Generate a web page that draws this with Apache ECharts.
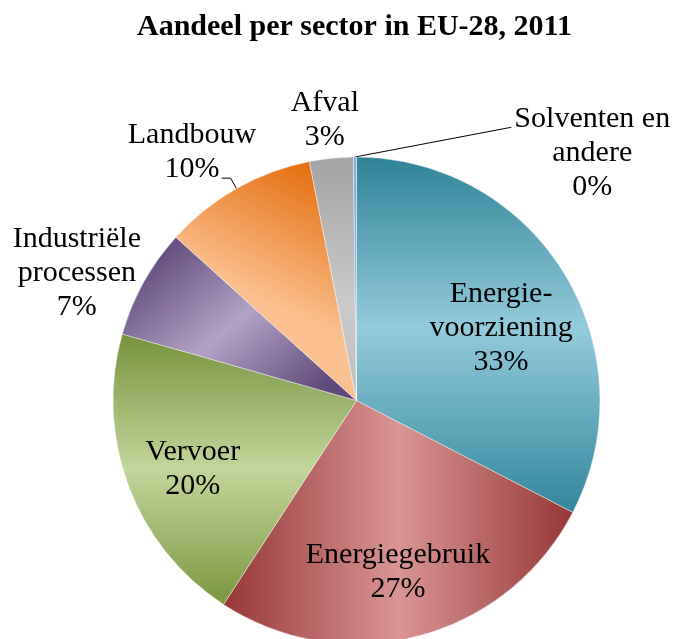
<!DOCTYPE html>
<html>
<head>
<meta charset="utf-8">
<script src="https://cdn.jsdelivr.net/npm/echarts@6/dist/echarts.min.js"></script>
<style>html,body{margin:0;padding:0;background:#fff}#c{width:675px;height:639px}</style>
</head>
<body>
<div id="c"></div>
<script>
// ---- data ----
const categories = ['Energievoorziening', 'Energiegebruik', 'Vervoer', 'Industriële processen', 'Landbouw', 'Afval', 'Solventen en andere'];
const labelNames = ['Energie-\nvoorziening', 'Energiegebruik', 'Vervoer', 'Industriële\nprocessen', 'Landbouw', 'Afval', 'Solventen en\nandere'];
const values = [32.6, 26.6, 20.2, 7.3, 10.2, 2.9, 0.2];

// ---- style ----
const CX = 356.5, CY = 400.5, R = 243.5;
const FONT = "Liberation Serif";
// [radial ratio, angular tweak in degrees] for each label
const labelPlace = [[0.664, 4.7], [0.726, 1.2], [0.73, -2.3], [1.262, -4.5], [1.224, -4.0], [1.159, -0.5], [1.403, 44]];

function lin(x, y, x2, y2, stops) {
  return new echarts.graphic.LinearGradient(x, y, x2, y2, stops.map(c => ({offset: c[0], color: c[1]})));
}
const fills = [
  lin(0, 0, 0, 1, [[0, '#2f8297'], [0.48, '#93cbdc'], [1, '#33869c']]),
  lin(0, 0, 1, 0, [[0, '#953735'], [0.5, '#d99694'], [1, '#953735']]),
  lin(0, 0, 0, 1, [[0, '#76923c'], [0.5, '#c3d69b'], [1, '#7a963f']]),
  lin(0.2, 0, 0.8, 1, [[0, '#5f497a'], [0.5, '#b3a2c7'], [1, '#5f497a']]),
  lin(0.75, 0, 0.4, 0.55, [[0, '#e46c0a'], [1, '#fac090']]),
  lin(0, 0, 0, 1, [[0, '#a3a3a3'], [0.6, '#cacaca'], [1, '#bebebe']]),
  '#8eaadb'
];
const outsideIdx = [4, 6];

const total = values.reduce((a, b) => a + b, 0);
function midAngle(i) {
  let cum = 0;
  for (let k = 0; k < i; k++) cum += values[k];
  return (cum + values[i] / 2) / total * 360;
}
function polar(angDeg, r) {
  const a = angDeg * Math.PI / 180;
  return [CX + r * Math.sin(a), CY - r * Math.cos(a)];
}

const data = categories.map((name, i) => {
  const out = outsideIdx.indexOf(i) >= 0;
  return {
    name: name,
    value: values[i],
    itemStyle: {color: fills[i]},
    label: {position: out ? 'outside' : 'inside'},
    labelLine: {show: out}
  };
});

const chart = echarts.init(document.getElementById('c'), null, {renderer: 'canvas'});
chart.setOption({
  animation: false,
  backgroundColor: '#fff',
  textStyle: {fontFamily: FONT},
  title: {
    text: 'Aandeel per sector in EU-28, 2011',
    left: 137, top: 12, padding: 0,
    textStyle: {fontFamily: FONT, fontSize: 30, fontWeight: 'bold', color: '#000'}
  },
  series: [{
    type: 'pie',
    center: [CX, CY],
    radius: [0, R],
    startAngle: 90,
    clockwise: true,
    avoidLabelOverlap: false,
    itemStyle: {borderColor: 'rgba(255,255,255,0.7)', borderWidth: 0.6},
    label: {
      show: true,
      fontFamily: FONT,
      fontSize: 30,
      lineHeight: 34,
      color: '#000',
      formatter: p => labelNames[p.dataIndex] + '\n' + Math.round(p.value / total * 100) + '%'
    },
    labelLine: {length: 10, length2: 8, smooth: false, lineStyle: {color: '#000', width: 1}},
    labelLayout: function (p) {
      const i = p.dataIndex;
      const m = midAngle(i);
      const pl = labelPlace[i];
      const t = polar(m + pl[1], pl[0] * R);
      const res = {x: t[0], y: t[1], align: 'center', verticalAlign: 'middle'};
      const arc = polar(m, R);
      if (i === 4) {
        const a = m * Math.PI / 180;
        const p1 = [arc[0] + 12 * Math.sin(a), arc[1] - 12 * Math.cos(a)];
        res.labelLinePoints = [arc, p1, [p1[0] - 9, p1[1]]];
      } else if (i === 6) {
        const left = t[0] - p.labelRect.width / 2;
        const firstY = t[1] - 34;
        res.labelLinePoints = [arc, [left - 3, firstY + 8]];
      }
      return res;
    },
    data: data
  }]
});
</script>
</body>
</html>
